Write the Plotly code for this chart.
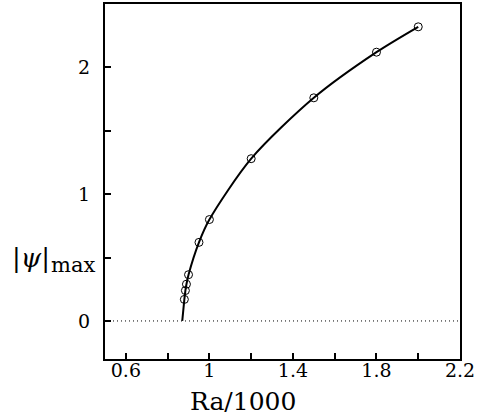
import plotly.graph_objects as go

# Data
ra_points = [0.88, 0.885, 0.89, 0.90, 0.95, 1.0, 1.2, 1.5, 1.8, 2.0]
psi_points = [0.17, 0.24, 0.29, 0.365, 0.62, 0.80, 1.28, 1.76, 2.12, 2.32]

ra_onset = [0.870]
psi_onset = [0.0]

ra_curve = ra_onset + ra_points
psi_curve = psi_onset + psi_points

x_range = [0.5, 2.2]
y_range = [-0.3, 2.5]
x_tickvals = [0.6, 0.8, 1.0, 1.2, 1.4, 1.6, 1.8, 2.0, 2.2]
x_ticktext = ["0.6", "", "1", "", "1.4", "", "1.8", "", "2.2"]
y_tickvals = [0, 0.5, 1, 1.5, 2]
y_ticktext = ["0", "", "1", "", "2"]

FONT = "DejaVu Serif"

fig = go.Figure()
fig.add_trace(go.Scatter(
    x=x_range, y=[0, 0], mode="lines",
    line=dict(color="black", width=1, dash="1px,3px"),
    hoverinfo="skip", showlegend=False))
fig.add_trace(go.Scatter(
    x=ra_curve, y=psi_curve, mode="lines",
    line=dict(color="black", width=2, shape="spline", smoothing=0.8),
    showlegend=False))
fig.add_trace(go.Scatter(
    x=ra_points, y=psi_points, mode="markers",
    marker=dict(symbol="circle-open", size=8, color="black", line=dict(width=1, color="black")),
    showlegend=False))

fig.update_layout(
    width=485, height=420,
    margin=dict(l=105, r=25, t=4, b=61, autoexpand=False),
    paper_bgcolor="white", plot_bgcolor="white",
    font=dict(family=FONT, color="black", size=19),
    xaxis=dict(range=x_range, tickvals=x_tickvals, ticktext=x_ticktext,
               ticks="inside", ticklen=6, tickwidth=2, tickcolor="black",
               showline=True, linewidth=2, linecolor="black", mirror=True,
               showgrid=False, zeroline=False, ticklabelstandoff=-7,
               tickfont=dict(family=FONT, size=19)),
    yaxis=dict(range=y_range, tickvals=y_tickvals, ticktext=y_ticktext,
               ticks="inside", ticklen=6, tickwidth=2, tickcolor="black",
               showline=True, linewidth=2, linecolor="black", mirror=True,
               showgrid=False, zeroline=False, ticklabelstandoff=9,
               tickfont=dict(family=FONT, size=19)),
    annotations=[
        dict(text="Ra/1000", xref="paper", yref="paper", x=0.389, y=-0.12,
             xanchor="center", yanchor="middle", showarrow=False,
             font=dict(family=FONT, size=25)),
        dict(text="|<i>ψ</i>|", xref="paper", yref="y",
             x=-0.153, y=0.50, xanchor="right", yanchor="middle", showarrow=False,
             borderpad=0, font=dict(family=FONT, size=26, color="black")),
        dict(text="max", xref="paper", yref="y",
             x=-0.024, y=0.445, xanchor="right", yanchor="middle", showarrow=False,
             borderpad=0, font=dict(family=FONT, size=21)),
    ],
)

fig.write_html("out.html", config={"displayModeBar": False},
               post_script="document.body.style.margin='0';")
